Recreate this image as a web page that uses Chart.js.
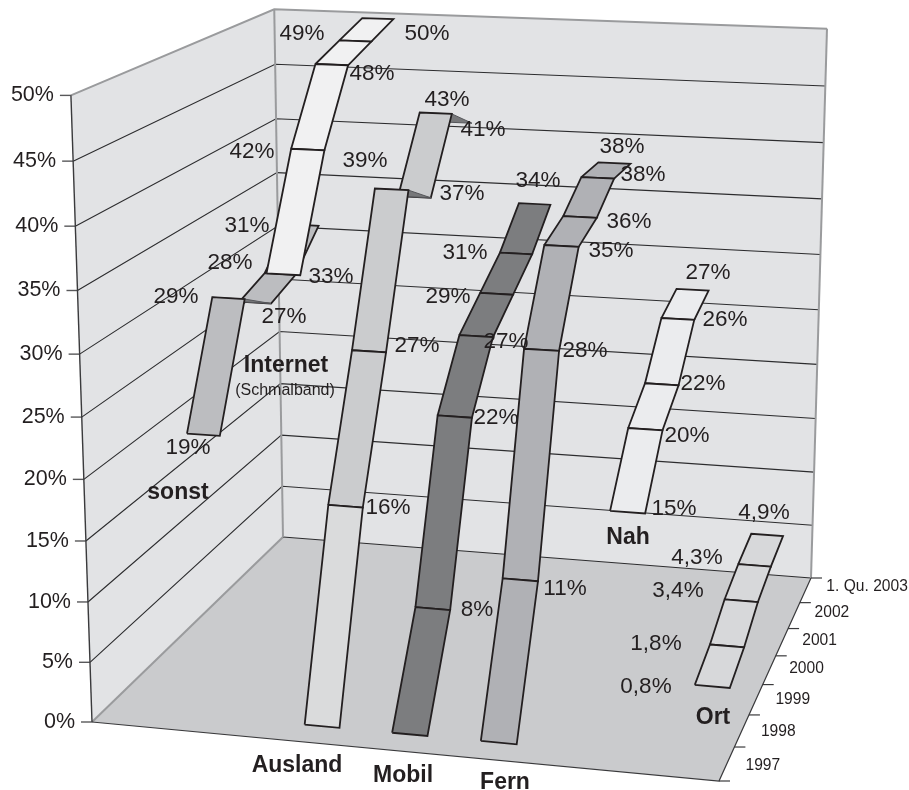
<!DOCTYPE html>
<html>
<head>
<meta charset="utf-8">
<title>Marktanteile</title>
<script src="https://cdn.jsdelivr.net/npm/chart.js@4"></script>
<style>
    html, body { margin: 0; padding: 0; background: #fff; }
    canvas { display: block; }
</style>
</head>
<body>
<canvas id="ribbonChart" width="909" height="790"></canvas>
<script>
// Percent values per year, front (1997) to back (2003)
const years = ['1997', '1998', '1999', '2000', '2001', '2002', '1. Qu. 2003'];
const valueTicks = ['0%', '5%', '10%', '15%', '20%', '25%', '30%', '35%', '40%', '45%', '50%'];

const sonst = [null, null, 19, 29, 27, 28, 31];
const internet = [null, null, 33, 42, 48, 49, 50];
const ausland = [0, 16, 27, 39, 37, 43, 41];
const mobil = [0, 8, 22, 27, 29, 31, 34];
const fern = [0, 11, 28, 35, 36, 38, 38];
const nah = [null, null, 15, 20, 22, 26, 27];
const ort = [null, null, 0.8, 1.8, 3.4, 4.3, 4.9];

// Hand placed value labels, same order as the values
const sonstLabels = [null, null, [188, 448], [176, 297], [284, 317], [230, 263], [247, 226]];
const internetLabels = [null, null, [331, 277], [252, 152], [372, 74], [302, 34], [427, 34]];
const auslandLabels = [null, [388, 508], [417, 346], [365, 161], [462, 194], [447, 100], [483, 130]];
const mobilLabels = [null, [477, 610], [496, 418], [506, 342], [448, 297], [465, 253], [538, 181]];
const fernLabels = [null, [565, 589], [585, 351], [611, 251], [629, 222], [643, 175], [622, 147]];
const nahLabels = [null, null, [674, 509], [687, 436], [703, 384], [725, 320], [708, 273]];
const ortLabels = [null, null, [646, 687], [656, 644], [678, 591], [697, 558], [764, 513]];

const seriesRows = [
    { values: sonst, labels: sonstLabels, color: '#bcbdc0' },
    { values: internet, labels: internetLabels, color: '#f1f1f2' },
    { values: ausland, labels: auslandLabels, color: '#cbccce', frontColor: '#dadbdc' },
    { values: mobil, labels: mobilLabels, color: '#7c7d7f' },
    { values: fern, labels: fernLabels, color: '#b0b1b5' },
    { values: nah, labels: nahLabels, color: '#ebecee' },
    { values: ort, labels: ortLabels, color: '#d7d8da' }
];

const seriesNames = [
    ['sonst', 178, 493], ['Internet', 286, 366], ['Ausland', 297, 766], ['Mobil', 403, 776],
    ['Fern', 505, 783], ['Nah', 628, 538], ['Ort', 713, 718]
];

const MAX_VALUE = 50;
const RIBBON_HALF = 0.2;
const INK = '#231f20';

// Box corners on screen, used to set up the perspective
const floorCorners = [[92, 722], [719, 781], [811, 578], [283, 537]];
const topCorners = [[0, 0, 70, 93], [1, 1, 827, 29], [0, 1, 275, 11]];

function buildCamera() {
    const [[x0, y0], [x1, y1], [x2, y2], [x3, y3]] = floorCorners;
    const dx1 = x1 - x2, dx2 = x3 - x2, sx = x0 - x1 + x2 - x3;
    const dy1 = y1 - y2, dy2 = y3 - y2, sy = y0 - y1 + y2 - y3;
    const den = dx1 * dy2 - dx2 * dy1;
    const g = (sx * dy2 - dx2 * sy) / den;
    const h = (dx1 * sy - sx * dy1) / den;
    const a = [x1 - x0 + g * x1, y1 - y0 + g * y1, g];
    const b = [x3 - x0 + h * x3, y3 - y0 + h * y3, h];
    const d = [x0, y0, 1];

    // Least squares for the height column
    let n = [[0, 0, 0], [0, 0, 0], [0, 0, 0]], r = [0, 0, 0];
    topCorners.forEach(([s, t, px, py]) => {
        const m = [0, 1, 2].map(k => a[k] * s + b[k] * t + d[k]);
        [[[1, 0, -px], px * m[2] - m[0]], [[0, 1, -py], py * m[2] - m[1]]].forEach(([row, rhs]) => {
            for (let i = 0; i < 3; i++) {
                r[i] += row[i] * rhs;
                for (let j = 0; j < 3; j++) n[i][j] += row[i] * row[j];
            }
        });
    });
    const det3 = m => m[0][0] * (m[1][1] * m[2][2] - m[1][2] * m[2][1])
        - m[0][1] * (m[1][0] * m[2][2] - m[1][2] * m[2][0])
        + m[0][2] * (m[1][0] * m[2][1] - m[1][1] * m[2][0]);
    const dn = det3(n);
    const c = [0, 1, 2].map(col => det3(n.map((row, i) => row.map((v, j) => j === col ? r[i] : v))) / dn);
    return { a, b, c, d };
}

const camera = buildCamera();

// width 0..1, depth 0..1, value in percent -> point on the chart scales
function project(s, t, value) {
    const z = value / MAX_VALUE;
    const { a, b, c, d } = camera;
    const v = [0, 1, 2].map(k => a[k] * s + b[k] * t + c[k] * z + d[k]);
    return { x: v[0] / v[2], y: v[1] / v[2] };
}

function shape(points, fill, border, width) {
    return {
        data: [...points, points[0]],
        showLine: true,
        fill: 'shape',
        backgroundColor: fill,
        borderColor: border,
        borderWidth: width,
        pointRadius: 0,
        tension: 0
    };
}

function line(points, color, width) {
    return {
        data: points,
        showLine: true,
        fill: false,
        borderColor: color,
        borderWidth: width,
        pointRadius: 0,
        tension: 0
    };
}

// Walls, floor, grid
function buildBox() {
    const sets = [];
    sets.push(shape([project(0, 0, 0), project(0, 1, 0), project(0, 1, MAX_VALUE), project(0, 0, MAX_VALUE)], '#e2e3e5', '#e2e3e5', 0));
    sets.push(shape([project(0, 1, 0), project(1, 1, 0), project(1, 1, MAX_VALUE), project(0, 1, MAX_VALUE)], '#e2e3e5', '#e2e3e5', 0));
    sets.push(shape([project(0, 0, 0), project(1, 0, 0), project(1, 1, 0), project(0, 1, 0)], '#cacbcd', '#cacbcd', 0));

    valueTicks.forEach(label => {
        const v = parseFloat(label);
        if (v > 0 && v < MAX_VALUE) {
            sets.push(line([project(0, 0, v), project(0, 1, v), project(1, 1, v)], '#2c2c2e', 1.1));
        }
        const p = project(0, 0, v);
        sets.push(line([{ x: p.x - 11, y: p.y }, p], '#58585a', 1.4));
    });

    sets.push(line([project(0, 0, 0), project(0, 1, 0)], '#9a9b9d', 2));
    sets.push(line([project(0, 1, 0), project(1, 1, 0)], '#2c2c2e', 1.1));
    sets.push(line([project(0, 1, 0), project(0, 1, MAX_VALUE)], '#9a9b9d', 2));
    sets.push(line([project(1, 1, 0), project(1, 1, MAX_VALUE)], '#9a9b9d', 2));
    sets.push(line([project(0, 0, MAX_VALUE), project(0, 1, MAX_VALUE), project(1, 1, MAX_VALUE)], '#9a9b9d', 2));
    sets.push(line([project(0, 0, 0), project(0, 0, MAX_VALUE)], '#3a3a3c', 1.4));
    sets.push(line([project(0, 0, 0), project(1, 0, 0), project(1, 1, 0)], '#3a3a3c', 1.2));

    for (let k = 0; k <= years.length; k++) {
        const p = project(1, k / years.length, 0);
        sets.push(line([p, { x: p.x + 11, y: p.y }], '#3a3a3c', 1.2));
    }
    return sets;
}

// One ribbon, back segments first so nearer ones cover them
function buildRibbon(row, i) {
    const sets = [];
    const nS = seriesRows.length, nT = years.length;
    const left = (i + 0.5 - RIBBON_HALF) / nS, right = (i + 0.5 + RIBBON_HALF) / nS;
    for (let k = nT - 2; k >= 0; k--) {
        const v0 = row.values[k], v1 = row.values[k + 1];
        if (v0 === null || v1 === null) continue;
        const t0 = (k + 0.5) / nT, t1 = (k + 1.5) / nT;
        const corners = [project(left, t0, v0), project(right, t0, v0), project(right, t1, v1), project(left, t1, v1)];
        if (v1 < v0) {
            // falling stretch shows its dark underside
            sets.push(shape(corners, '#77787a', '#55565a', 1));
        } else {
            sets.push(shape(corners, k === 0 && row.frontColor ? row.frontColor : row.color, INK, 1.8));
        }
    }
    return sets;
}

const paintOrder = [...buildBox()];
seriesRows.forEach((row, i) => paintOrder.push(...buildRibbon(row, i)));
// Chart.js paints the highest order first
paintOrder.forEach((set, i) => { set.order = paintOrder.length - i; });

function percentText(v) {
    return String(v).replace('.', ',') + '%';
}

const textPlugin = {
    id: 'chartText',
    afterDatasetsDraw(chart) {
        const ctx = chart.ctx;
        const xs = chart.scales.x, ys = chart.scales.y;
        ctx.save();
        ctx.fillStyle = INK;
        ctx.textBaseline = 'middle';

        ctx.font = '22.5px "Liberation Sans", Arial, sans-serif';
        ctx.textAlign = 'center';
        seriesRows.forEach(row => {
            row.values.forEach((v, k) => {
                const pos = row.labels[k];
                if (v === null || !pos) return;
                ctx.fillText(percentText(v), xs.getPixelForValue(pos[0]), ys.getPixelForValue(pos[1]));
            });
        });

        ctx.font = '21.5px "Liberation Sans", Arial, sans-serif';
        ctx.textAlign = 'right';
        valueTicks.forEach(label => {
            const p = project(0, 0, parseFloat(label));
            ctx.fillText(label, xs.getPixelForValue(p.x - 17), ys.getPixelForValue(p.y));
        });

        ctx.font = '15.6px "Liberation Sans", Arial, sans-serif';
        ctx.textAlign = 'left';
        years.forEach((label, k) => {
            const p = project(1, k / years.length, 0);
            ctx.fillText(label, xs.getPixelForValue(p.x + 26.5), ys.getPixelForValue(p.y - 15.5));
        });

        ctx.font = 'bold 23px "Liberation Sans", Arial, sans-serif';
        ctx.textAlign = 'center';
        seriesNames.forEach(([label, x, y]) => {
            ctx.fillText(label, xs.getPixelForValue(x), ys.getPixelForValue(y));
        });
        ctx.font = '16px "Liberation Sans", Arial, sans-serif';
        ctx.fillText('(Schmalband)', xs.getPixelForValue(285), ys.getPixelForValue(391));
        ctx.restore();
    }
};

new Chart(document.getElementById('ribbonChart'), {
    type: 'scatter',
    data: { datasets: paintOrder },
    options: {
        responsive: false,
        animation: false,
        layout: { padding: 0 },
        plugins: { legend: { display: false }, tooltip: { enabled: false } },
        scales: {
            x: { type: 'linear', min: 0, max: 909, display: false },
            y: { type: 'linear', min: 0, max: 790, reverse: true, display: false }
        }
    },
    plugins: [textPlugin]
});
</script>
</body>
</html>
